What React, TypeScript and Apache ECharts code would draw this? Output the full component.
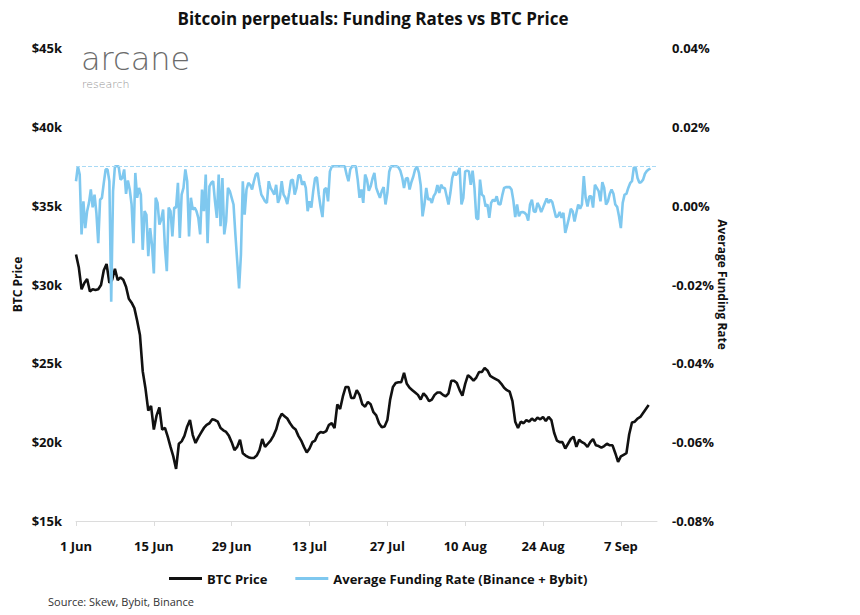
import React, { useEffect, useRef } from 'react';
import * as echarts from 'echarts';

// BTC price, 12-hour steps starting 1 Jun 2022 (USD)
const BTC_PRICE: number[] = [
  31900, 31100, 29700, 30100, 30350, 29550, 29700, 29650, 29700, 29970,
  30900, 31300, 30100, 30300, 31000, 30280, 30450, 30300, 29860, 29100,
  28850, 28500, 27700, 26800, 24500, 23400, 22000, 22300, 20800, 21700,
  22200, 20800, 20900, 20350, 19700, 19100, 18300, 19900, 20050, 20400,
  21000, 21400, 20450, 19950, 20300, 20600, 20900, 21100, 21200, 21450,
  21400, 21300, 20900, 20750, 20650, 20400, 20000, 19500, 19700, 20150,
  19300, 19150, 19050, 19000, 19000, 19150, 19500, 20200, 19700, 19900,
  20100, 20400, 20800, 21450, 21800, 21650, 21500, 21200, 20950, 20800,
  20400, 20100, 19700, 19350, 19600, 20000, 20100, 20500, 20650, 20600,
  20700, 21100, 21200, 20900, 22400, 22100, 22900, 23500, 23500, 22800,
  22800, 23300, 23000, 22400, 22250, 22550, 22400, 21900, 21700, 21200,
  20950, 21000, 21400, 22700, 23500, 23750, 23800, 23800, 24400, 23700,
  23450, 23300, 23150, 23000, 22700, 23100, 22900, 22600, 22700, 23000,
  23150, 23150, 23000, 22900, 23100, 23900, 23900, 23750, 23300, 22950,
  23700, 24250, 24100, 23900, 24100, 24450, 24450, 24700, 24550, 24200,
  24100, 24000, 23900, 23700, 23450, 23300, 23200, 22600, 21300, 20900,
  21300, 21200, 21400, 21300, 21500, 21350, 21550, 21450, 21600, 21350,
  21600, 21400, 20600, 20100, 20000, 20000, 19600, 19900, 20200, 20350,
  19700, 20150, 20000, 19900, 19700, 20000, 20200, 19800, 19750, 19650,
  19750, 19900, 19800, 19800, 19300, 18750, 19100, 19200, 19300, 20500,
  21250, 21300, 21500, 21600, 21850, 22100, 22350,
];

// Average funding rate (Binance + Bybit), 8-hour steps starting 1 Jun 2022 (%)
const FUNDING_RATE: number[] = [
  0.0062, 0.0100, 0.0079, -0.0073, 0.0011, -0.0057, -0.0014, 0.0007, 0.0041, -0.0004,
  0.0028, -0.0018, -0.0095, 0.0015, 0.0020, 0.0058, 0.0092, 0.0092, 0.0062, -0.0244,
  0.0037, 0.0100, 0.0100, 0.0100, 0.0066, 0.0070, 0.0092, 0.0030, 0.0064, 0.0041,
  0.0003, -0.0095, 0.0083, 0.0020, 0.0045, 0.0028, -0.0112, -0.0014, -0.0023, -0.0128,
  -0.0057, -0.0099, -0.0172, 0.0020, 0.0007, -0.0048, -0.0035, -0.0010, -0.0107, -0.0166,
  -0.0005, -0.0014, -0.0078, -0.0005, -0.0005, 0.0058, -0.0082, 0.0028, 0.0045, 0.0092,
  0.0062, -0.0078, 0.0020, -0.0010, -0.0005, -0.0014, -0.0031, -0.0073, 0.0041, -0.0014,
  0.0079, -0.0095, 0.0049, 0.0058, 0.0062, 0.0011, -0.0031, 0.0079, -0.0052, 0.0070,
  -0.0073, -0.0040, 0.0045, 0.0037, 0.0020, 0.0003, -0.0073, -0.0141, -0.0210, -0.0124,
  0.0062, -0.0023, 0.0041, 0.0058, 0.0053, 0.0041, 0.0062, 0.0079, 0.0083, 0.0053,
  0.0028, 0.0020, 0.0011, 0.0007, 0.0062, 0.0045, 0.0037, 0.0028, 0.0053, 0.0007,
  0.0020, 0.0062, 0.0028, 0.0020, 0.0004, 0.0032, 0.0064, 0.0066, 0.0028, 0.0045,
  0.0077, 0.0077, 0.0053, 0.0062, 0.0045, -0.0014, 0.0011, -0.0005, 0.0037, 0.0070,
  0.0072, 0.0028, -0.0004, -0.0029, 0.0041, 0.0045, 0.0011, 0.0087, 0.0099, 0.0100,
  0.0100, 0.0100, 0.0100, 0.0100, 0.0100, 0.0100, 0.0079, 0.0062, 0.0092, 0.0100,
  0.0100, 0.0100, 0.0066, 0.0020, 0.0041, 0.0007, 0.0079, 0.0066, 0.0038, 0.0049,
  0.0069, 0.0083, 0.0045, 0.0032, 0.0020, 0.0037, 0.0047, 0.0003, 0.0032, 0.0086,
  0.0100, 0.0100, 0.0100, 0.0100, 0.0097, 0.0089, 0.0072, 0.0045, 0.0069, 0.0070,
  0.0041, 0.0060, 0.0074, 0.0092, 0.0099, 0.0084, 0.0052, -0.0027, 0.0003, 0.0045,
  0.0015, 0.0018, 0.0007, 0.0024, 0.0032, 0.0052, 0.0032, 0.0053, 0.0045, 0.0045,
  0.0024, 0.0003, 0.0032, 0.0070, 0.0086, 0.0077, 0.0083, 0.0096, 0.0003, 0.0020,
  0.0087, 0.0089, 0.0087, 0.0053, 0.0089, 0.0045, -0.0031, -0.0035, 0.0066, 0.0028,
  0.0024, -0.0002, 0.0003, -0.0031, 0.0007, 0.0015, 0.0011, 0.0024, 0.0004, 0.0003,
  0.0026, 0.0045, 0.0047, 0.0047, 0.0047, 0.0041, 0.0013, -0.0029, 0.0003, -0.0027,
  -0.0017, -0.0016, -0.0018, -0.0023, -0.0038, 0.0003, 0.0015, -0.0014, -0.0016, 0.0007,
  -0.0002, -0.0016, -0.0005, 0.0007, 0.0018, 0.0007, 0.0015, 0.0009, -0.0010, -0.0029,
  -0.0027, -0.0016, -0.0031, -0.0018, -0.0069, -0.0051, -0.0031, -0.0008, -0.0014, -0.0040,
  -0.0018, 0.0003, -0.0008, 0.0003, 0.0075, 0.0020, -0.0002, 0.0024, 0.0024, -0.0005,
  0.0053, 0.0045, 0.0037, 0.0011, 0.0060, 0.0045, 0.0003, 0.0011, 0.0030, 0.0041,
  0.0030, 0.0003, -0.0003, -0.0027, -0.0057, 0.0007, 0.0028, 0.0030, 0.0045, 0.0057,
  0.0062, 0.0097, 0.0096, 0.0070, 0.0058, 0.0060, 0.0066, 0.0081, 0.0088, 0.0092, 0.0094,
];

const PRICE_STEP_DAYS = 0.5;
const FUNDING_STEP_DAYS = 1 / 3;
const FUNDING_CAP = 0.01;

const X_TICK_DAYS: number[] = [0, 14, 28, 42, 56, 70, 84, 98];
const X_TICK_LABELS: string[] = ['1 Jun', '15 Jun', '29 Jun', '13 Jul', '27 Jul', '10 Aug', '24 Aug', '7 Sep'];

const FONT = '"Open Sans", "Noto Sans", sans-serif';
const PRICE_COLOR = '#111111';
const FUNDING_COLOR = '#7fc8ef';

export default function App() {
  const ref = useRef<HTMLDivElement>(null);

  useEffect(() => {
    if (!ref.current) return;
    const chart = echarts.init(ref.current, undefined, { renderer: 'svg' });

    const priceData = BTC_PRICE.map((v, i) => [i * PRICE_STEP_DAYS, v]);
    const fundingData = FUNDING_RATE.map((v, i) => [i * FUNDING_STEP_DAYS, v]);

    const axisLabelStyle = { color: '#111', fontWeight: 'bold', fontSize: 13, fontFamily: FONT };

    chart.setOption({
      animation: false,
      textStyle: { fontFamily: FONT },
      grid: { left: 76, right: 203, top: 48, bottom: 94 },
      legend: {
        left: 164,
        top: 567,
        itemWidth: 33,
        itemHeight: 3,
        itemGap: 28,
        icon: 'rect',
        textStyle: { color: '#111', fontWeight: 'bold', fontSize: 13, fontFamily: FONT },
        data: [
          { name: 'BTC Price', icon: 'rect', itemStyle: { color: PRICE_COLOR } },
          { name: 'Average Funding Rate (Binance + Bybit)', icon: 'rect', itemStyle: { color: FUNDING_COLOR } },
        ],
      },
      xAxis: {
        type: 'value',
        min: 0,
        max: 104.5,
        interval: 14,
        splitLine: { show: false },
        axisLine: { show: true, onZero: false, lineStyle: { color: '#dcdcdc', width: 1 } },
        axisTick: { show: true, customValues: X_TICK_DAYS, length: 5, lineStyle: { color: '#dcdcdc' } },
        axisLabel: {
          ...axisLabelStyle,
          margin: 18,
          customValues: X_TICK_DAYS,
          formatter: (v: number) => {
            const idx = X_TICK_DAYS.indexOf(Math.round(v));
            return idx >= 0 ? X_TICK_LABELS[idx] : '';
          },
        },
      },
      yAxis: [
        {
          type: 'value',
          position: 'left',
          min: 15000,
          max: 45000,
          interval: 5000,
          splitLine: { show: false },
          axisLine: { show: false },
          axisTick: { show: false },
          axisLabel: {
            ...axisLabelStyle,
            margin: 14,
            formatter: (v: number) => '$' + Math.round(v / 1000) + 'k',
          },
          name: 'BTC Price',
          nameLocation: 'middle',
          nameGap: 53,
          nameMoveOverlap: false,
          nameTextStyle: { color: '#111', fontWeight: 'bold', fontSize: 12, fontFamily: FONT },
        },
        {
          type: 'value',
          position: 'right',
          min: -0.08,
          max: 0.04,
          interval: 0.02,
          splitLine: { show: false },
          axisLine: { show: false },
          axisTick: { show: false },
          axisLabel: {
            ...axisLabelStyle,
            margin: 15,
            formatter: (v: number) => v.toFixed(2) + '%',
          },
          name: 'Average Funding Rate',
          nameLocation: 'middle',
          nameRotate: -90,
          nameGap: 59,
          nameMoveOverlap: false,
          nameTextStyle: { color: '#111', fontWeight: 'bold', fontSize: 12, fontFamily: FONT },
        },
      ],
      series: [
        {
          name: 'BTC Price',
          type: 'line',
          yAxisIndex: 0,
          data: priceData,
          symbol: 'none',
          lineStyle: { color: PRICE_COLOR, width: 2.6 },
          itemStyle: { color: PRICE_COLOR },
          z: 2,
        },
        {
          name: 'Average Funding Rate (Binance + Bybit)',
          type: 'line',
          yAxisIndex: 1,
          data: fundingData,
          symbol: 'none',
          lineStyle: { color: FUNDING_COLOR, width: 2.6 },
          itemStyle: { color: FUNDING_COLOR },
          z: 3,
          markLine: {
            silent: true,
            symbol: 'none',
            label: { show: false },
            lineStyle: { color: '#a9daf5', type: 'dashed', width: 1 },
            data: [{ yAxis: FUNDING_CAP }],
          },
        },
      ],
      graphic: [
        {
          type: 'text',
          x: 373,
          y: 18,
          style: {
            text: 'Bitcoin perpetuals: Funding Rates vs BTC Price',
            align: 'center',
            verticalAlign: 'middle',
            fill: '#111',
            font: 'bold 17px ' + FONT,
          },
        },
        {
          type: 'text',
          x: 81,
          y: 59,
          style: {
            text: 'arcane',
            align: 'left',
            verticalAlign: 'middle',
            fill: '#6b6b6b',
            font: '300 32px "DejaVu Sans", ' + FONT,
          },
        },
        {
          type: 'text',
          x: 82,
          y: 84,
          style: {
            text: 'research',
            align: 'left',
            verticalAlign: 'middle',
            fill: '#949494',
            font: '300 11px "DejaVu Sans", ' + FONT,
          },
        },
        {
          type: 'text',
          x: 48,
          y: 601,
          style: {
            text: 'Source: Skew, Bybit, Binance',
            align: 'left',
            verticalAlign: 'middle',
            fill: '#333',
            font: '11px ' + FONT,
          },
        },
      ],
    });

    return () => chart.dispose();
  }, []);

  return <div ref={ref} style={{ width: 860, height: 615, position: 'absolute', left: 0, top: 0 }} />;
}
